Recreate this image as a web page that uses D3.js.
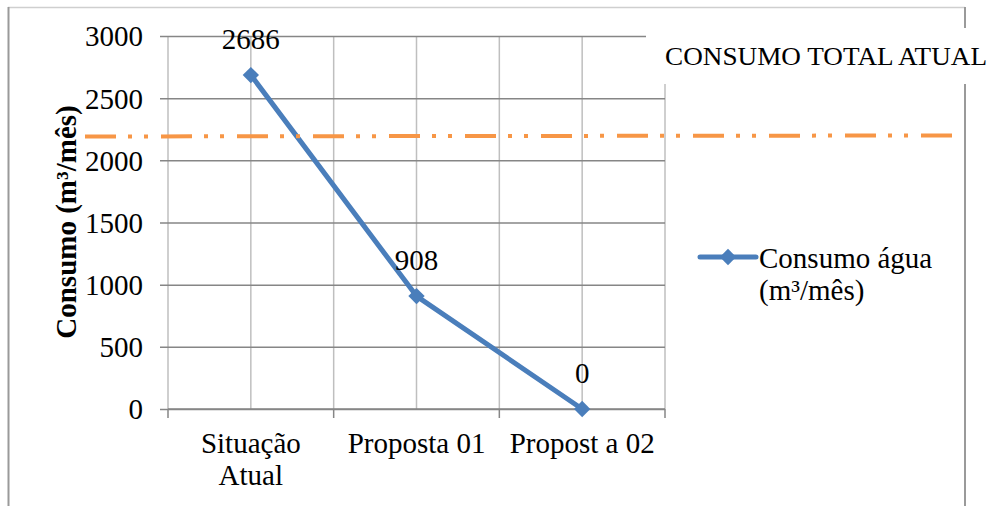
<!DOCTYPE html>
<html>
<head>
<meta charset="utf-8">
<script src="https://cdn.jsdelivr.net/npm/d3@7"></script>
<style>
  body{margin:0;background:#fff;}
  text{font-family:"Liberation Serif","Times New Roman",serif;fill:#000;}
</style>
</head>
<body>
<svg class="chart"></svg>
<script>
var categories=[["Situação","Atual"],["Proposta 01"],["Propost a 02"]];
var consumo=[2686,908,0];
var consumoTotalAtual=2200;
var yTicks=[0,500,1000,1500,2000,2500,3000];
var seriesName=["Consumo água","(m³/mês)"];
var refName="CONSUMO TOTAL ATUAL";

var screen=
{
  width:994,
  height:506
};
var svg=d3.select("svg.chart")
          .attr("width",screen.width)
          .attr("height",screen.height);

var margin=
{
  top:36,
  bottom:97,
  left:168,
  right:329
};
var width=screen.width-margin.left-margin.right;
var height=screen.height-margin.top-margin.bottom;
var fontSize=29;

// chart frame
svg.append("line").attr("x1",8).attr("x2",965).attr("y1",7.5).attr("y2",7.5)
   .attr("stroke","#cfcfcf").attr("stroke-width",1.5);
svg.append("line").attr("x1",8.5).attr("x2",8.5).attr("y1",7).attr("y2",506)
   .attr("stroke","#9a9a9a").attr("stroke-width",2);
svg.append("line").attr("x1",965).attr("x2",965).attr("y1",7).attr("y2",506)
   .attr("stroke","#9a9a9a").attr("stroke-width",2);

var xscale=d3.scalePoint()
             .domain(d3.range(categories.length))
             .range([0,width])
             .padding(0.5);
var step=xscale.step();
var yscale=d3.scaleLinear()
             .domain([0,3000])
             .range([height,0]);

var plot=svg.append("g")
            .attr("transform","translate("+margin.left+","+margin.top+")");

// vertical grid, every half category
var vgrid=d3.range(categories.length*2+1).map(function(i){return i*step/2;});
plot.selectAll("line.vgrid")
    .data(vgrid)
    .enter()
    .append("line")
    .classed("vgrid",true)
    .attr("x1",function(d){return d;})
    .attr("x2",function(d){return d;})
    .attr("y1",0)
    .attr("y2",height)
    .attr("stroke","#bfbfbf")
    .attr("stroke-width",1.5);

// y axis with horizontal grid
var yAxis=d3.axisLeft(yscale)
            .tickValues(yTicks)
            .tickSize(-width)
            .tickFormat(function(d){return d;});
var yg=plot.append("g").call(yAxis);
yg.select(".domain").remove();
yg.selectAll(".tick line")
  .attr("x1",-8)
  .attr("stroke","#868686")
  .attr("stroke-width",1.5);
yg.selectAll(".tick text")
  .attr("x",-25)
  .attr("dy","0.34em")
  .style("font-size",fontSize+"px")
  .style("font-family","Liberation Serif");

// x axis
plot.append("line")
    .attr("x1",0).attr("x2",width)
    .attr("y1",height).attr("y2",height)
    .attr("stroke","#868686").attr("stroke-width",1.5);
plot.selectAll("line.xtick")
    .data(d3.range(categories.length+1))
    .enter()
    .append("line")
    .attr("x1",function(d){return d*step;})
    .attr("x2",function(d){return d*step;})
    .attr("y1",height)
    .attr("y2",height+9)
    .attr("stroke","#868686").attr("stroke-width",1.5);
var xlab=plot.selectAll("text.xlab")
             .data(categories)
             .enter()
             .append("text")
             .classed("xlab",true)
             .attr("text-anchor","middle")
             .attr("transform",function(d,i){return "translate("+xscale(i)+","+(height+44)+")";})
             .style("font-size",fontSize+"px");
xlab.selectAll("tspan")
    .data(function(d){return d;})
    .enter()
    .append("tspan")
    .attr("x",0)
    .attr("y",function(d,i){return i*32;})
    .text(function(d){return d;});

// reference line
var ref=svg.append("line")
           .attr("x1",85)
           .attr("x2",952)
           .attr("y1",margin.top+yscale(consumoTotalAtual)+1)
           .attr("y2",margin.top+yscale(consumoTotalAtual))
           .attr("stroke","#f79646")
           .attr("stroke-width",4)
           .attr("stroke-dasharray","31,12,4,12,4,13");

// series line
var line=d3.line()
           .x(function(d,i){return xscale(i);})
           .y(function(d){return yscale(d);});
plot.append("path")
    .datum(consumo)
    .attr("d",line)
    .attr("fill","none")
    .attr("stroke","#4a7ebb")
    .attr("stroke-width",5)
    .attr("stroke-linejoin","round");
var diamond=d3.symbol().type(d3.symbolDiamond2).size(170);
plot.selectAll("path.marker")
    .data(consumo)
    .enter()
    .append("path")
    .classed("marker",true)
    .attr("d",diamond)
    .attr("transform",function(d,i){return "translate("+xscale(i)+","+yscale(d)+")";})
    .attr("fill","#4a7ebb");
plot.selectAll("text.lbl")
    .data(consumo)
    .enter()
    .append("text")
    .classed("lbl",true)
    .attr("x",function(d,i){return xscale(i);})
    .attr("y",function(d){return yscale(d)-26;})
    .attr("text-anchor","middle")
    .style("font-size",fontSize+"px")
    .text(function(d){return d;});

// y title
svg.append("text")
   .attr("transform","translate(76,222) rotate(-90)")
   .attr("text-anchor","middle")
   .style("font-size",fontSize+"px")
   .style("font-weight","bold")
   .text("Consumo (m³/mês)");

// legend
var legend=svg.append("g")
              .attr("transform","translate(700,257)");
legend.append("line")
      .attr("x1",0).attr("x2",56)
      .attr("y1",0).attr("y2",0)
      .attr("stroke","#4a7ebb").attr("stroke-width",5)
      .attr("stroke-linecap","round");
legend.append("path")
      .attr("d",diamond)
      .attr("transform","translate(28,0)")
      .attr("fill","#4a7ebb");
legend.selectAll("text")
      .data(seriesName)
      .enter()
      .append("text")
      .attr("x",59)
      .attr("y",function(d,i){return 11+i*32;})
      .style("font-size",fontSize+"px")
      .text(function(d){return d;});

// reference label box
svg.append("rect")
   .attr("x",646).attr("y",28)
   .attr("width",348).attr("height",56)
   .attr("fill","#fff");
svg.append("text")
   .attr("x",665)
   .attr("y",65)
   .attr("textLength",322)
   .attr("lengthAdjust","spacingAndGlyphs")
   .style("font-size","26px")
   .text(refName);
</script>
</body>
</html>
